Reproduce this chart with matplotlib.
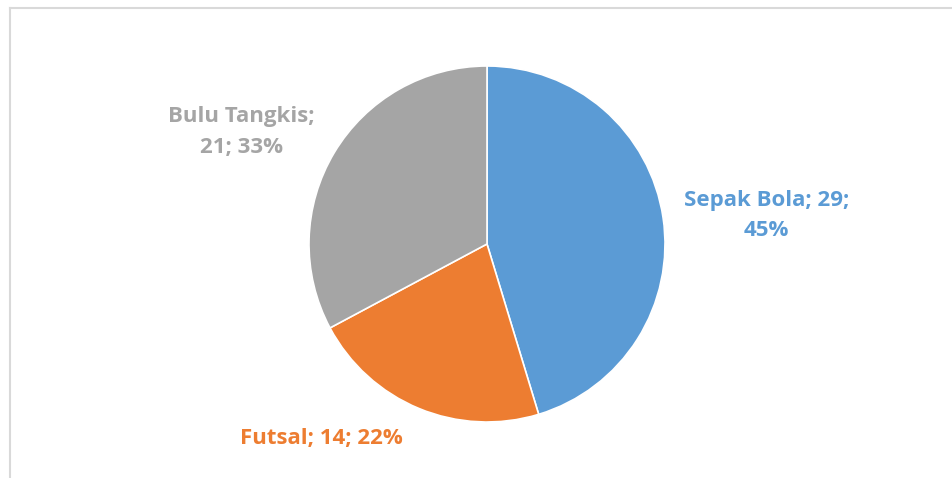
import matplotlib.pyplot as plt

labels = ['Sepak Bola', 'Futsal', 'Bulu Tangkis']
values = [29, 14, 21]
colors = ['#5B9BD5', '#ED7D31', '#A5A5A5']
label_text = ['Sepak Bola; 29;\n45%', 'Futsal; 14; 22%', 'Bulu Tangkis;\n21; 33%']
label_pos = [(1.57, 0.16), (-0.93, -1.09), (-1.38, 0.63)]

plt.rcParams['font.family'] = ['Open Sans', 'DejaVu Sans']

fig = plt.figure(figsize=(9.52, 4.78), dpi=100)

# chart frame (only top/left visible in crop)
frame = fig.add_axes([9.5 / 952, -0.1, 1.2, (478 - 7.5) / 478 + 0.1])
frame.set_xticks([])
frame.set_yticks([])
for s in frame.spines.values():
    s.set_color('#d9d9d9')
    s.set_linewidth(1.5)
frame.patch.set_alpha(0)

cx, cy, r = 487, 244, 178
ax = fig.add_axes([(cx - r) / 952, (478 - cy - r) / 478, 2 * r / 952, 2 * r / 478])
ax.pie(values, colors=colors, startangle=90, counterclock=False,
       wedgeprops=dict(edgecolor='white', linewidth=1.2), radius=1)
ax.set_xlim(-1, 1)
ax.set_ylim(-1, 1)
ax.set_aspect('equal')

for t, (x, y), c in zip(label_text, label_pos, colors):
    ax.text(x, y, t, color=c, fontsize=16, fontweight='bold',
            ha='center', va='center', linespacing=1.6, clip_on=False)

fig.savefig('out.png', dpi=100)
